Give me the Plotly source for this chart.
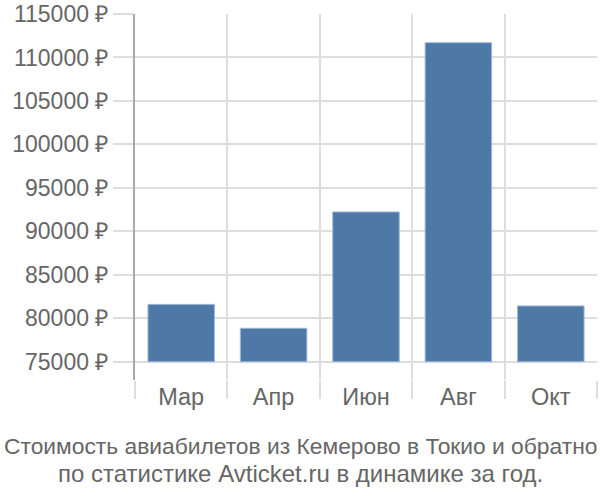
import plotly.graph_objects as go

months = ['Мар', 'Апр', 'Июн', 'Авг', 'Окт']
prices = [81600, 78850, 92230, 111700, 81420]
base_price = 75000
y_ticks = [75000, 80000, 85000, 90000, 95000, 100000, 105000, 110000, 115000]

title_lines = ['Стоимость авиабилетов из Кемерово в Токио и обратно',
               'по статистике Avticket.ru в динамике за год.']
title_sizes = [22.8, 24]

grid = '#dddddd'
txt = '#666666'

W, H = 600, 500
ml, mr, mt, mb = 135, 3, 14, 120
plot_h = H - mt - mb

fig = go.Figure()
fig.add_trace(go.Bar(
    x=months,
    y=[p - base_price for p in prices],
    base=base_price,
    marker=dict(color='#4e79a7', line=dict(color='#9fb8d6', width=1)),
    hovertext=[f'{p} ₽' for p in prices],
))

fig.update_layout(
    width=W, height=H,
    margin=dict(l=ml, r=mr, t=mt, b=mb),
    paper_bgcolor='white', plot_bgcolor='white',
    bargap=0.28,
    showlegend=False,
    font=dict(family='Liberation Sans, Arial, sans-serif', size=23, color=txt),
)

fig.update_xaxes(
    type='category',
    tickson='boundaries',
    showgrid=True, gridcolor=grid, gridwidth=2,
    ticks='outside', ticklen=18, tickcolor=grid, tickwidth=2,
    showline=False,
    automargin=False,
    tickfont=dict(size=23.5, color=txt),
)

fig.update_yaxes(
    range=[72900, 115000],
    tickvals=y_ticks,
    ticktext=[f'{v} ₽' for v in y_ticks],
    showgrid=True, gridcolor=grid, gridwidth=2,
    ticks='outside', ticklen=20, tickcolor=grid, tickwidth=2,
    showline=True, linecolor='#aaaaaa', linewidth=2,
    zeroline=False,
    automargin=False,
    ticklabeloverflow='allow',
    tickfont=dict(size=23, color=txt),
)

# caption under the chart, two lines
for i, line in enumerate(title_lines):
    fig.add_annotation(
        text=line,
        xref='paper', yref='paper',
        x=(300 - ml) / (W - ml - mr), y=-(66 + 27 * i) / plot_h,
        xanchor='center', yanchor='middle',
        showarrow=False,
        font=dict(size=title_sizes[i], color=txt),
    )

# drop the default 8px body margin so the figure fills the window
fig.write_html('out.html', config={'displayModeBar': False},
               post_script="document.body.style.margin='0';")
